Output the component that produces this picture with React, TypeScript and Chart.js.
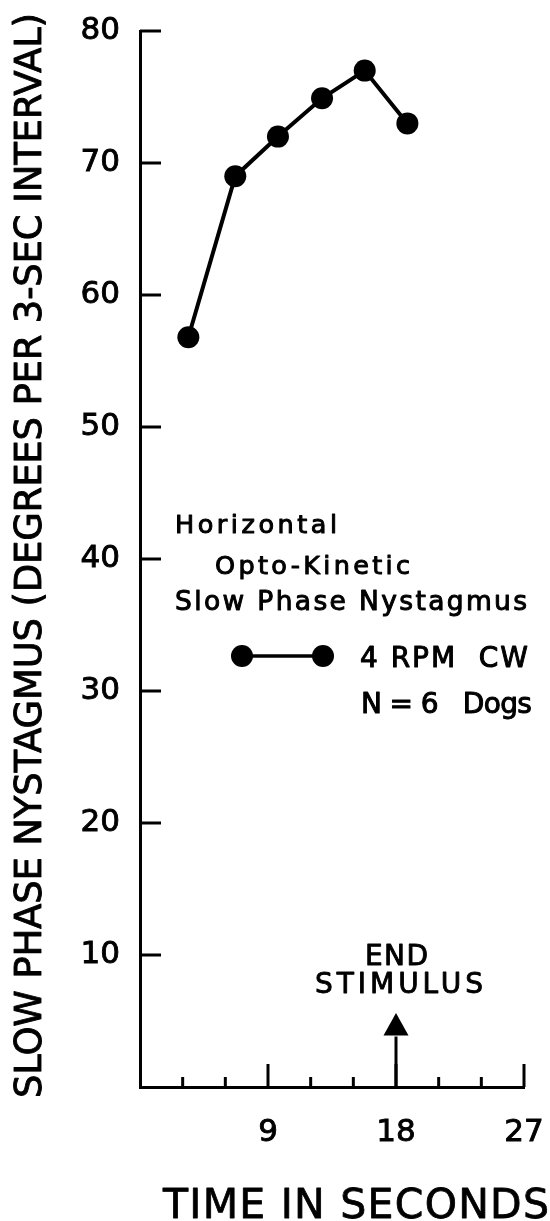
import React, { useEffect, useRef } from 'react';
import { Chart, registerables } from 'chart.js';

Chart.register(...registerables);

// ---- data ----
const TIME_S = [3.4, 6.7, 9.7, 12.8, 15.8, 18.8];
const SLOW_PHASE_DEG = [56.8, 69.0, 72.0, 74.9, 77.0, 73.0];
const X_LABELED_TICKS = [9, 18, 27];
const X_MINOR_STEP = 3;
const Y_TICKS = [10, 20, 30, 40, 50, 60, 70, 80];
const X_TITLE = 'TIME IN SECONDS';
const Y_TITLE = 'SLOW PHASE NYSTAGMUS (DEGREES PER 3-SEC INTERVAL)';
const LEGEND_LINES = ['Horizontal', 'Opto-Kinetic', 'Slow Phase Nystagmus'];
const SERIES_LABEL = '4 RPM  CW';
const SAMPLE_LABEL = 'N = 6   Dogs';
const ANNOTATION_LINES = ['END', 'STIMULUS'];
const STIMULUS_END_S = 18;
const ARROW_TIP_VALUE = 5.6;
const ARROW_HEAD_BASE_VALUE = 3.9;

const X_MIN = 0;
const X_MAX = 27;
const Y_MIN = 0;
const Y_MAX = 80;

const FAMILY = '"DejaVu Sans", "Liberation Sans", sans-serif';

function spacedText(
  ctx: CanvasRenderingContext2D,
  text: string,
  left: number,
  baseline: number,
  width: number,
  size: number,
  stroke = 0.9
) {
  ctx.font = `${size}px ${FAMILY}`;
  (ctx as any).letterSpacing = '0px';
  const w0 = ctx.measureText(text).width;
  const sp = text.length > 1 ? (width - w0) / (text.length - 1) : 0;
  (ctx as any).letterSpacing = `${sp.toFixed(2)}px`;
  ctx.textAlign = 'left';
  ctx.textBaseline = 'alphabetic';
  ctx.fillText(text, left, baseline);
  if (stroke > 0) {
    ctx.lineWidth = stroke;
    ctx.lineJoin = 'round';
    ctx.strokeText(text, left, baseline);
  }
  (ctx as any).letterSpacing = '0px';
}

const decorations = {
  id: 'decorations',
  afterDraw(chart: any) {
    const { ctx, chartArea, scales } = chart;
    const x = scales.x;
    const y = scales.y;
    ctx.save();
    ctx.strokeStyle = '#000';
    ctx.fillStyle = '#000';
    ctx.lineWidth = 3;
    ctx.lineCap = 'butt';

    // inner x ticks
    for (let v = X_MIN + X_MINOR_STEP; v <= X_MAX; v += X_MINOR_STEP) {
      const px = x.getPixelForValue(v);
      const len = X_LABELED_TICKS.includes(v) ? 23 : 10;
      ctx.beginPath();
      ctx.moveTo(px, chartArea.bottom);
      ctx.lineTo(px, chartArea.bottom - len);
      ctx.stroke();
    }
    // inner y ticks
    for (const v of Y_TICKS) {
      const py = y.getPixelForValue(v);
      ctx.beginPath();
      ctx.moveTo(chartArea.left, py);
      ctx.lineTo(chartArea.left + 21, py);
      ctx.stroke();
    }

    // end-stimulus arrow
    const ax = x.getPixelForValue(STIMULUS_END_S);
    const tip = y.getPixelForValue(ARROW_TIP_VALUE);
    const base = y.getPixelForValue(ARROW_HEAD_BASE_VALUE);
    ctx.beginPath();
    ctx.moveTo(ax, chartArea.bottom);
    ctx.lineTo(ax, base + 1);
    ctx.stroke();
    ctx.beginPath();
    ctx.moveTo(ax, tip);
    ctx.lineTo(ax - 12.5, base);
    ctx.lineTo(ax + 12.5, base);
    ctx.closePath();
    ctx.fill();

    // annotation text
    spacedText(ctx, ANNOTATION_LINES[0], 365, 965, 63, 28);
    spacedText(ctx, ANNOTATION_LINES[1], 315, 993, 168, 28);

    // legend block
    spacedText(ctx, LEGEND_LINES[0], 175, 533, 162, 25.5, 1);
    spacedText(ctx, LEGEND_LINES[1], 215, 574, 195, 25.5, 1);
    spacedText(ctx, LEGEND_LINES[2], 175, 610, 352, 26.5, 1);

    ctx.lineWidth = 3.5;
    ctx.beginPath();
    ctx.moveTo(242, 656);
    ctx.lineTo(323, 656);
    ctx.stroke();
    for (const cx of [242, 323]) {
      ctx.beginPath();
      ctx.arc(cx, 656, 11, 0, Math.PI * 2);
      ctx.fill();
    }
    spacedText(ctx, SERIES_LABEL, 360, 667, 168, 28, 1);
    spacedText(ctx, SAMPLE_LABEL, 361, 713, 171, 28, 1);

    // x axis title
    spacedText(ctx, X_TITLE, 163, 1218, 386, 41, 0.8);

    // y axis title (rotated)
    ctx.save();
    ctx.translate(41, 1098);
    ctx.rotate(-Math.PI / 2);
    spacedText(ctx, Y_TITLE, 0, 0, 1085, 37, 0.9);
    ctx.restore();

    ctx.restore();
  },
};

export default function App() {
  const canvasRef = useRef<HTMLCanvasElement | null>(null);

  useEffect(() => {
    const canvas = canvasRef.current;
    if (!canvas) return;
    const hideZero = (v: any) => (Number(v) === 0 ? '' : String(v));
    const chart = new Chart(canvas, {
      type: 'line',
      data: {
        datasets: [
          {
            label: SERIES_LABEL,
            data: TIME_S.map((t, i) => ({ x: t, y: SLOW_PHASE_DEG[i] })),
            borderColor: '#000',
            backgroundColor: '#000',
            borderWidth: 4,
            pointRadius: 11,
            pointBackgroundColor: '#000',
            pointBorderColor: '#000',
            pointBorderWidth: 0,
            tension: 0,
            clip: false as any,
          },
        ],
      },
      options: {
        responsive: false,
        animation: false,
        devicePixelRatio: 1,
        layout: { padding: { left: 0, top: 31, right: 26, bottom: 0 } },
        plugins: {
          legend: { display: false },
          tooltip: { enabled: false },
          title: { display: false },
        },
        scales: {
          x: {
            type: 'linear',
            min: X_MIN,
            max: X_MAX,
            afterFit: (s: any) => {
              s.height = 134;
              s.paddingLeft = 0;
              s.paddingRight = 0;
            },
            grid: { display: false, drawTicks: false },
            border: { display: true, color: '#000', width: 3 },
            ticks: {
              stepSize: 9,
              autoSkip: false,
              maxRotation: 0,
              padding: 27,
              color: '#000',
              textStrokeColor: '#000',
              textStrokeWidth: 0.9,
              font: { family: FAMILY, size: 31 },
              callback: hideZero,
            },
          },
          y: {
            type: 'linear',
            min: Y_MIN,
            max: Y_MAX,
            afterFit: (s: any) => {
              s.width = 140;
              s.paddingTop = 0;
              s.paddingBottom = 0;
            },
            grid: { display: false, drawTicks: false },
            border: { display: true, color: '#000', width: 3 },
            ticks: {
              stepSize: 10,
              padding: 20,
              color: '#000',
              textStrokeColor: '#000',
              textStrokeWidth: 0.9,
              font: { family: FAMILY, size: 31 },
              callback: hideZero,
            },
            title: { display: false },
          },
        },
      } as any,
      plugins: [decorations],
    });
    return () => chart.destroy();
  }, []);

  return (
    <div style={{ position: 'absolute', left: 0, top: 0, width: 550, height: 1221, background: '#fff' }}>
      <canvas ref={canvasRef} width={550} height={1221} style={{ display: 'block', width: 550, height: 1221 }} />
    </div>
  );
}
